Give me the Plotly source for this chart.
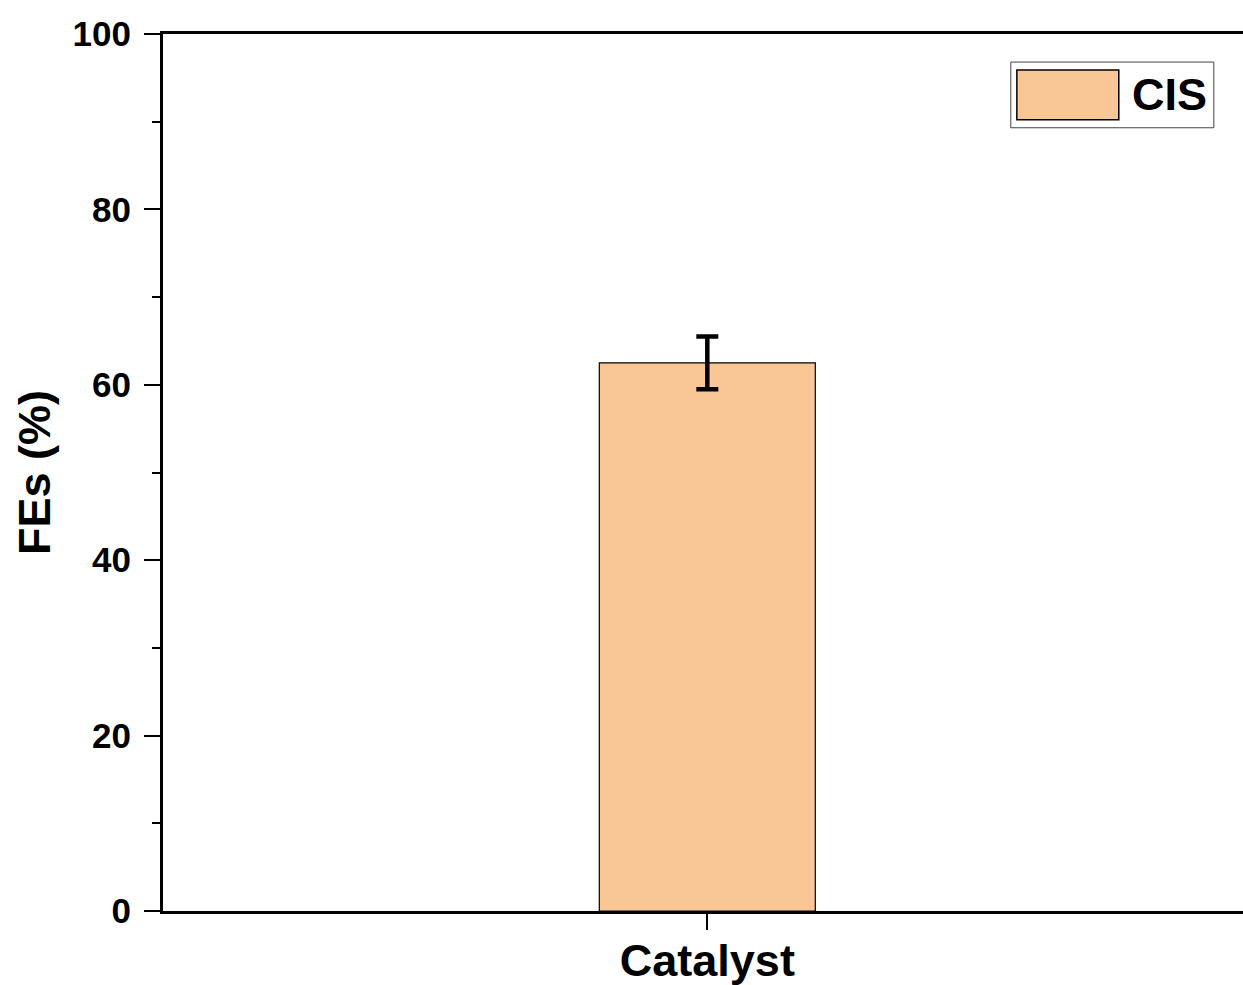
import plotly.graph_objects as go

categories = ["Catalyst"]
series_name = "CIS"
fe_values = [62.5]
fe_errors = [3.0]
y_tick_vals = [0, 20, 40, 60, 80, 100]
y_tick_text = ["0", "20", "40", "60", "80", "100"]

FONT = "Liberation Sans, Arial, sans-serif"
BAR_COLOR = "#F9C795"

fig = go.Figure()
fig.add_trace(go.Bar(
    x=categories, y=fe_values, name=series_name,
    width=0.2,
    marker=dict(color=BAR_COLOR, line=dict(color="black", width=1.2)),
    error_y=dict(type="data", array=fe_errors, visible=True,
                 color="black", thickness=4.5, width=11),
    showlegend=False,
))

# legend drawn as a framed swatch + text (large swatch like the reference)
fig.add_shape(type="rect", xref="paper", yref="paper",
              x0=0.7850, x1=0.9730, y0=0.8931, y1=0.9680,
              line=dict(color="#444444", width=1), fillcolor="white", layer="above")
fig.add_shape(type="rect", xref="paper", yref="paper",
              x0=0.7906, x1=0.8850, y0=0.9022, y1=0.9590,
              line=dict(color="black", width=1.5), fillcolor=BAR_COLOR, layer="above")
fig.add_annotation(xref="paper", yref="paper", x=0.8955, y=0.9305,
                   xanchor="left", yanchor="middle", showarrow=False,
                   text=series_name,
                   font=dict(family=FONT, size=45, color="black", weight="bold"))

fig.update_layout(
    width=1243, height=985,
    margin=dict(l=163, r=0, t=34, b=74),
    paper_bgcolor="white", plot_bgcolor="white",
    font=dict(family=FONT, color="black"),
    showlegend=False,
)

fig.update_xaxes(
    range=[-0.504, 0.496], automargin=False,
    showline=True, linecolor="black", linewidth=3, mirror=True,
    ticks="outside", ticklen=16, tickwidth=2, tickcolor="black",
    ticklabelstandoff=-8,
    tickfont=dict(family=FONT, size=45, color="black", weight="bold"),
    showgrid=False, zeroline=False,
)
fig.update_yaxes(
    range=[0, 100], automargin=False,
    tickvals=y_tick_vals, ticktext=y_tick_text,
    showline=True, linecolor="black", linewidth=3, mirror=False,
    ticks="outside", ticklen=16, tickwidth=2, tickcolor="black",
    ticklabelstandoff=6,
    minor=dict(dtick=10, ticks="outside", ticklen=8, tickwidth=2, tickcolor="black", showgrid=False),
    tickfont=dict(family=FONT, size=35, color="black", weight="bold"),
    title=dict(text="FEs (%)", standoff=8,
               font=dict(family=FONT, size=45, color="black", weight="bold")),
    showgrid=False, zeroline=False,
)

fig.write_html("out.html",
               config={"displayModeBar": False},
               post_script="document.body.style.margin='0px';document.body.style.overflow='hidden';")
